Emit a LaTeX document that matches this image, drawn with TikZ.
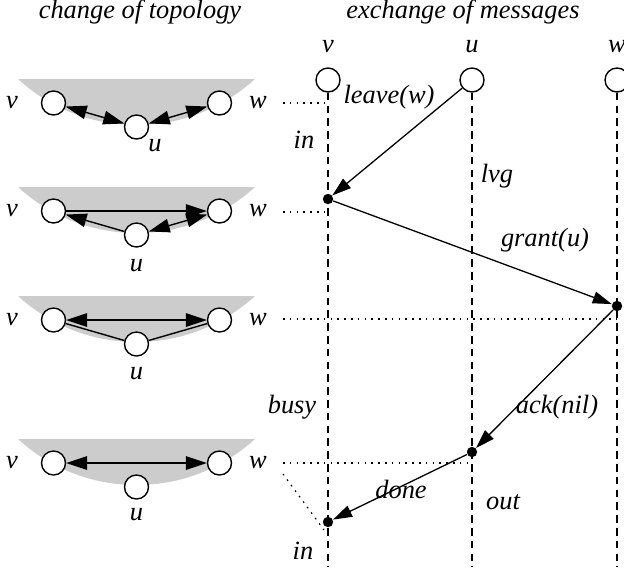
\documentclass[tikz,border=0pt]{standalone}
\usepackage{fontspec}
\setmainfont{Liberation Serif}
\usetikzlibrary{arrows.meta}
\tikzset{Tri/.tip={Triangle[length=10.5pt,width=6.8pt]},
         MTri/.tip={Triangle[length=9.5pt,width=6pt]}}
\begin{document}
\begin{tikzpicture}[x=0.5pt,y=-0.5pt,
  lbl/.style={font=\fontsize{13.2}{15}\selectfont\itshape, inner sep=0pt},
  pc/.style={circle,draw,fill=white,line width=0.7pt,minimum size=12pt,inner sep=0pt},
  ev/.style={circle,fill,minimum size=5.2pt,inner sep=0pt},
  msg/.style={line width=0.65pt,-MTri},
  life/.style={line width=0.6pt,dash pattern=on 3.8pt off 2.6pt},
  guide/.style={line width=0.6pt,dash pattern=on 0.8pt off 2.6pt},
  topo/.style={line width=0.7pt},
]
\useasboundingbox (0,0) rectangle (624,569);

% titles
\node[lbl] (t1) at (140,12) {change of topology};
\node[lbl] (t2) at (463,12) {exchange of messages};

% left: change of topology
\foreach \i/\c in {1/79,2/187,3/296,4/439}{
  \begin{scope}
    \clip (0,\c) rectangle (300,\c+70);
    \fill[gray!40] (136.5,\c-129.6) circle[radius=87.8pt];
  \end{scope}
  \node[pc] (v\i) at (53.5,\c+24) {};
  \node[pc] (w\i) at (219.5,\c+24) {};
  \node[pc] (u\i) at (136.5,\c+48) {};
  \node[lbl] (lv\i) at (12,\c+24) {v};
  \node[lbl] (lw\i) at (258,\c+24) {w};
}
\node[lbl] (lu1) at (155,146) {u};
\node[lbl] (lu2) at (136.5,266) {u};
\node[lbl] (lu3) at (136.5,374) {u};
\node[lbl] (lu4) at (136.5,515) {u};

\draw[topo,Tri-Tri] (v1) -- (u1);
\draw[topo,Tri-Tri] (u1) -- (w1);
\draw[topo,-Tri] (v2) -- (w2);
\draw[topo,-Tri] (u2) -- (v2);
\draw[topo,Tri-Tri] (u2) -- (w2);
\draw[topo,Tri-Tri] (v3) -- (w3);
\draw[topo] (u3) -- (v3);
\draw[topo] (u3) -- (w3);
\draw[topo,Tri-Tri] (v4) -- (w4);

% right: exchange of messages
\node[lbl] (nv) at (328,47) {v};
\node[lbl] (nu) at (472,47) {u};
\node[lbl] (nw) at (617,47) {w};
\coordinate (vend) at (328,567);
\coordinate (uend) at (472,567);
\coordinate (wend) at (617,567);
\draw[life] (328,80) -- (vend);
\draw[life] (472,80) -- (uend);
\draw[life] (617,80) -- (wend);
\node[pc] (vc) at (328,80) {};
\node[pc] (uc) at (472,80) {};
\node[pc] (wc) at (617,80) {};

% guides
\coordinate (g1a) at (283,103); \coordinate (g1b) at (328,103);
\coordinate (g2a) at (283,212); \coordinate (g2b) at (328,212);
\coordinate (g3a) at (283,319); \coordinate (g3b) at (617,319);
\coordinate (g4a) at (283,463); \coordinate (g4b) at (472,463);
\coordinate (g5a) at (283,474); \coordinate (g5b) at (324,530);
\draw[guide] (g1a) -- (g1b);
\draw[guide] (g2a) -- (g2b);
\draw[guide] (g3a) -- (g3b);
\draw[guide] (g4a) -- (g4b);
\draw[guide] (g5a) -- (g5b);

% events
\node[ev] (e1) at (328,199) {};
\node[ev] (e2) at (617,306) {};
\node[ev] (e3) at (472,452) {};
\node[ev] (e4) at (328,522) {};

\draw[msg] (uc) -- (e1);
\draw[msg] (e1) -- (e2);
\draw[msg] (e2) -- (e3);
\draw[msg] (e3) -- (e4);

% labels
\node[lbl] (m1) at (389,97) {leave(w)};
\node[lbl] (m2) at (545,240) {grant(u)};
\node[lbl] (m3) at (557,407) {ack(nil)};
\node[lbl] (m4) at (401,489) {done};
\node[lbl] (s1) at (304,140) {in};
\node[lbl] (s2) at (497,176) {lvg};
\node[lbl] (s3) at (292,407) {busy};
\node[lbl] (s4) at (503,502) {out};
\node[lbl] (s5) at (303,551) {in};
\end{tikzpicture}
\end{document}
